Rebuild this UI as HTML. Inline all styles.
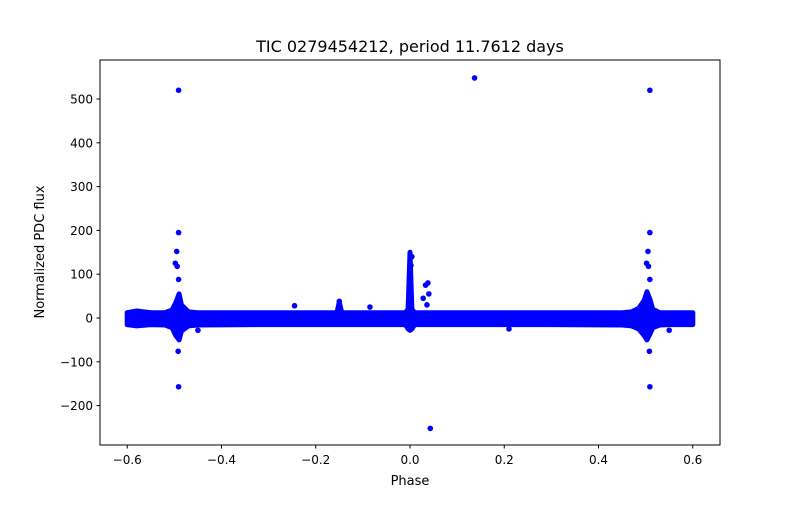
<!DOCTYPE html>
<html><head><meta charset="utf-8"><style>
body{margin:0;background:#fff;font-family:"Liberation Sans","DejaVu Sans",sans-serif}
</style></head><body>
<svg id="chart" width="800" height="500" xmlns="http://www.w3.org/2000/svg" style="font-family:'DejaVu Sans','Liberation Sans',sans-serif">
<rect width="800" height="500" fill="#fff"/>
<g id="marks"></g>
<rect x="100" y="60" width="620" height="385" fill="none" stroke="#000" stroke-width="1"/>
<g id="axes"></g>
<text x="410" y="52" font-size="16" text-anchor="middle">TIC 0279454212, period 11.7612 days</text>
<text x="410" y="485" font-size="13" text-anchor="middle">Phase</text>
<text x="44" y="252" font-size="13" text-anchor="middle" transform="rotate(-90 44 252)">Normalized PDC flux</text>
</svg>
<script>
const xTicks=[-0.6,-0.4,-0.2,0.0,0.2,0.4,0.6];
const xTickLabels=["\u22120.6","\u22120.4","\u22120.2","0.0","0.2","0.4","0.6"];
const yTicks=[-200,-100,0,100,200,300,400,500];
const yTickLabels=["\u2212200","\u2212100","0","100","200","300","400","500"];
const bandPhase=[-0.6,-0.58,-0.55,-0.52,-0.505,-0.497,-0.49,-0.485,-0.47,-0.45,-0.3,-0.155,-0.15,-0.145,-0.1,-0.01,-0.004,0,0.004,0.01,0.1,0.3,0.45,0.47,0.485,0.497,0.503,0.51,0.515,0.53,0.55,0.58,0.6];
const bandHigh=[12,16,12,12,18,35,55,30,14,12,12,12,36,12,12,12,20,150,20,12,12,12,12,14,22,40,60,40,20,12,12,12,12];
const bandLow=[-15,-18,-15,-16,-22,-40,-50,-30,-18,-16,-15,-15,-15,-15,-15,-15,-25,-28,-25,-15,-15,-15,-16,-18,-25,-40,-50,-35,-22,-16,-15,-15,-15];
const outPhase=[-0.491,0.509,0.137,0.043,-0.491,0.509,-0.491,0.509,-0.492,0.508,-0.495,0.505,-0.498,0.502,-0.494,0.506,-0.491,0.509,0.028,0.033,0.038,0.04,0.036,-0.15,-0.245,-0.085,-0.45,0.21,0.55,0.004,0.002];
const outFlux=[520,520,548,-252,195,195,-157,-157,-76,-76,152,152,125,125,118,118,88,88,45,75,80,55,30,38,28,25,-28,-25,-28,140,120];
const X=p=>100+(p+0.6578)*(620/1.3156);
const Y=v=>318-v*0.438;
const NS="http://www.w3.org/2000/svg";
const marks=document.getElementById('marks'),axes=document.getElementById('axes');
let d="M"+bandPhase.map((p,i)=>X(p).toFixed(1)+","+Y(bandHigh[i]).toFixed(1)).join("L");
for(let i=bandPhase.length-1;i>=0;i--)d+="L"+X(bandPhase[i]).toFixed(1)+","+Y(bandLow[i]).toFixed(1);
d+="Z";
const band=document.createElementNS(NS,'path');


band.setAttribute('d',d);band.setAttribute('fill','#0000ff');band.setAttribute('stroke','#0000ff');band.setAttribute('stroke-width','5');band.setAttribute('stroke-linejoin','round');
marks.appendChild(band);
outPhase.forEach((p,i)=>{const c=document.createElementNS(NS,'circle');


c.setAttribute('cx',X(p));c.setAttribute('cy',Y(outFlux[i]));c.setAttribute('r','2.8');c.setAttribute('fill','#0000ff');marks.appendChild(c);});
xTicks.forEach((t,i)=>{const x=X(t);
const l=document.createElementNS(NS,'line');


l.setAttribute('x1',x);l.setAttribute('x2',x);l.setAttribute('y1',445);l.setAttribute('y2',448.5);l.setAttribute('stroke','#000');axes.appendChild(l);
const tx=document.createElementNS(NS,'text');


tx.setAttribute('x',x);tx.setAttribute('y',464);tx.setAttribute('font-size','12');tx.setAttribute('text-anchor','middle');tx.textContent=xTickLabels[i];axes.appendChild(tx);});
yTicks.forEach((t,i)=>{const y=Y(t);
const l=document.createElementNS(NS,'line');


l.setAttribute('x1',96.5);l.setAttribute('x2',100);l.setAttribute('y1',y);l.setAttribute('y2',y);l.setAttribute('stroke','#000');axes.appendChild(l);
const tx=document.createElementNS(NS,'text');


tx.setAttribute('x',93);tx.setAttribute('y',y+4.5);tx.setAttribute('font-size','12');tx.setAttribute('text-anchor','end');tx.textContent=yTickLabels[i];axes.appendChild(tx);});
</script>
</body></html>
